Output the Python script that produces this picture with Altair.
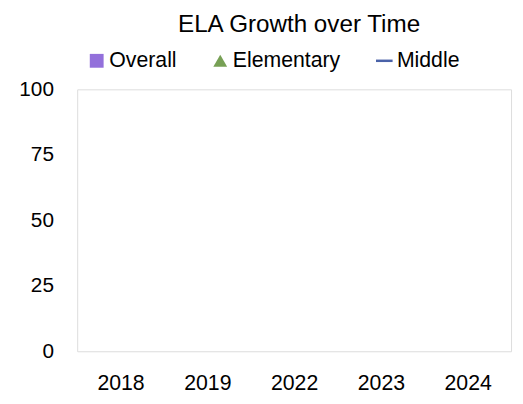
import altair as alt
import pandas as pd

years = ["2018", "2019", "2022", "2023", "2024"]
series = ["Overall", "Elementary", "Middle"]
colors = ["#9370DB", "#77A055", "#4A62A8"]
# No values are shown in the reference chart
overall = [None, None, None, None, None]
elementary = [None, None, None, None, None]
middle = [None, None, None, None, None]
y_ticks = [0, 25, 50, 75, 100]

rows = []
for name, vals in zip(series, [overall, elementary, middle]):
    for yr, v in zip(years, vals):
        rows.append({"Year": yr, "Series": name, "Value": v})
df = pd.DataFrame(rows)

FONT = "Liberation Sans Narrow, Arial Narrow, Liberation Sans, sans-serif"

shapes = [
    "M-1,-1L1,-1L1,1L-1,1Z",
    "triangle-up",
    "M-1.2,-0.18L1.2,-0.18L1.2,0.18L-1.2,0.18Z",
]

legend = alt.Legend(title=None, orient="none", legendX=9, legendY=-40,
                    direction="horizontal", labelFontSize=21.5, labelFont=FONT,
                    labelColor="black", symbolSize=196, labelOffset=2,
                    columnPadding=33, symbolStrokeWidth=0)

chart = alt.Chart(df).mark_point(filled=True, opacity=1, size=150).encode(
    x=alt.X("Year:N", sort=years, scale=alt.Scale(domain=years, paddingInner=0, paddingOuter=0),
            axis=alt.Axis(title=None, labelAngle=0, domain=False, ticks=False, grid=False,
                          labelFontSize=21.5, labelPadding=22, labelColor="black", labelFont=FONT)),
    y=alt.Y("Value:Q", scale=alt.Scale(domain=[0, 100]),
            axis=alt.Axis(title=None, values=y_ticks, domain=False, ticks=False, grid=False,
                          labelFontSize=21, labelPadding=24, labelColor="black", labelFont=FONT)),
    color=alt.Color("Series:N", scale=alt.Scale(domain=series, range=colors), legend=legend),
    shape=alt.Shape("Series:N", scale=alt.Scale(domain=series, range=shapes), legend=legend),
).properties(
    width=439,
    height=265,
    title=alt.Title("ELA Growth over Time", fontSize=24.5, font=FONT, fontWeight="normal",
                    color="black", anchor="middle", offset=13, dx=5),
    autosize=alt.AutoSizeParams(type="none"),
    padding={"left": 70, "top": 80, "right": 4, "bottom": 45},
).configure_view(stroke="#d9d9d9", strokeWidth=1.5).configure(background="white")

chart.save("out.html", embed_options={"renderer": "svg", "actions": False})
